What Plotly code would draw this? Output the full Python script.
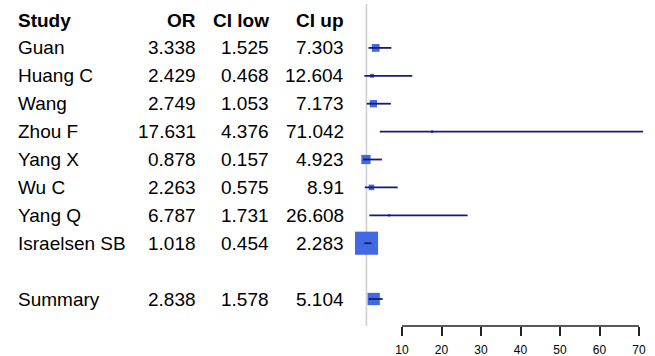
import plotly.graph_objects as go

# ---- data ----
studies = ["Guan", "Huang C", "Wang", "Zhou F", "Yang X", "Wu C", "Yang Q", "Israelsen SB"]
odds_ratio = [3.338, 2.429, 2.749, 17.631, 0.878, 2.263, 6.787, 1.018]
ci_low = [1.525, 0.468, 1.053, 4.376, 0.157, 0.575, 1.731, 0.454]
ci_up = [7.303, 12.604, 7.173, 71.042, 4.923, 8.91, 26.608, 2.283]
summary_label = "Summary"
summary_or = 2.838
summary_low = 1.578
summary_up = 5.104
headers = ["Study", "OR", "CI low", "CI up"]
tick_values = [10, 20, 30, 40, 50, 60, 70]
null_value = 1

# ---- layout constants ----
W, H = 655, 356
BOTTOM = 30
ROW_PX = 27.9
ROW0_PX = 20.0
plot_h = H - BOTTOM
y_top = -ROW0_PX / ROW_PX
y_bot = (plot_h - ROW0_PX) / ROW_PX
X0_PX = 362.5
X_SCALE = 3.95
x_range = [-X0_PX / X_SCALE, (W - X0_PX) / X_SCALE]

FONT = "Liberation Sans, Arial, Helvetica, sans-serif"
BOX_COL = "#4169E1"
LINE_COL = "#1a1a75"


def fmt(v):
    s = f"{v:.3f}".rstrip("0").rstrip(".")
    return s


all_labels = studies + [summary_label]
all_or = odds_ratio + [summary_or]
all_low = ci_low + [summary_low]
all_up = ci_up + [summary_up]
rows = list(range(1, len(studies) + 1)) + [len(studies) + 2]

info = [1.0 / (u - l) for u, l in zip(all_up, all_low)]
max_info = max(info[: len(studies)])
box_sizes = [max(2.5, 22.5 * i / max_info + 0.6) for i in info]

fig = go.Figure()

# null line
fig.add_shape(type="line", xref="x", yref="y", x0=null_value, x1=null_value,
              y0=-0.57, y1=y_bot, line=dict(color="#d0d0d0", width=1.6), layer="below")

# boxes
fig.add_trace(go.Scatter(
    x=all_or, y=rows, mode="markers", opacity=1,
    marker=dict(symbol="square", size=box_sizes, color=BOX_COL, opacity=1, line=dict(width=0)),
    hoverinfo="skip", showlegend=False))

# CI lines
for lo, up, r in zip(all_low, all_up, rows):
    fig.add_trace(go.Scatter(
        x=[lo, up], y=[r, r], mode="lines",
        line=dict(color=LINE_COL, width=1.8),
        hoverinfo="skip", showlegend=False))

# axis line (only across tick span)
fig.add_shape(type="line", xref="x", yref="paper", x0=tick_values[0], x1=tick_values[-1],
              y0=0, y1=0, line=dict(color="#222222", width=1.6))

# table text
col_x = [16, 197.7, 270.7, 345.7]
col_anchor = ["left", "right", "right", "right"]
for h, cx, an in zip(headers, col_x, col_anchor):
    fig.add_annotation(x=cx / W, y=0, xref="paper", yref="y", text=f"<b>{h}</b>",
                       xanchor=an, yanchor="middle", showarrow=False,
                       font=dict(family=FONT, size=19, color="black"))
for lab, o, l, u, r in zip(all_labels, all_or, all_low, all_up, rows):
    for txt, cx, an in zip([lab, fmt(o), fmt(l), fmt(u)], col_x, col_anchor):
        fig.add_annotation(x=cx / W, y=r, xref="paper", yref="y", text=txt,
                           xanchor=an, yanchor="middle", showarrow=False,
                           font=dict(family=FONT, size=19, color="black"))

fig.update_layout(
    width=W, height=H,
    margin=dict(l=0, r=0, t=0, b=BOTTOM, pad=0, autoexpand=False),
    paper_bgcolor="white", plot_bgcolor="white",
    xaxis=dict(range=x_range, tickvals=tick_values, ticks="outside", ticklen=9,
               tickwidth=1.6, tickcolor="#222222", showgrid=False, zeroline=False,
               showline=False, tickfont=dict(family=FONT, size=12, color="black"),
               ticklabelstandoff=4, automargin=False, fixedrange=True),
    yaxis=dict(range=[y_bot, y_top], showgrid=False, zeroline=False, showline=False,
               showticklabels=False, ticks="", automargin=False, fixedrange=True),
)

fig.write_html("out.html", config={"displayModeBar": False},
               post_script="document.body.style.margin='0';document.body.style.overflow='hidden';")
